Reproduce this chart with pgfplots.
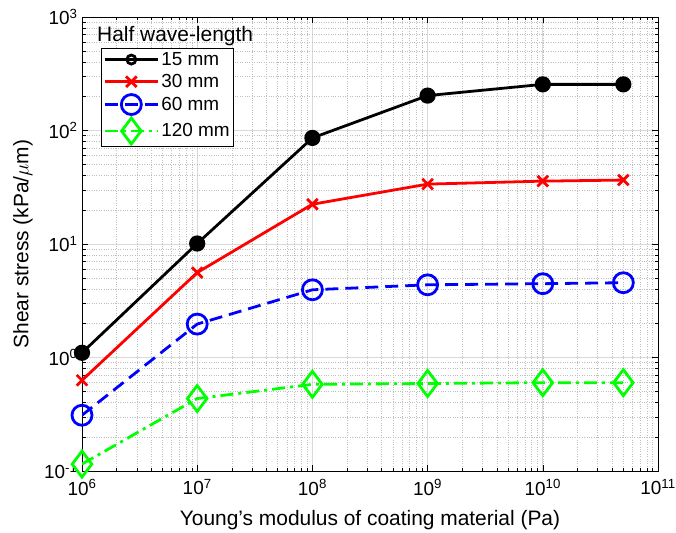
\documentclass[border=0pt]{standalone}
\usepackage{pgfplots}
\pgfplotsset{compat=1.18}
\usepackage{fontspec}
\setmainfont{Liberation Sans}
\begin{document}
\begin{tikzpicture}[x=1bp,y=1bp]
\useasboundingbox (-82bp,-62bp) rectangle (594bp,471bp);
\begin{loglogaxis}[
  at={(0,0)}, anchor=south west,
  scale only axis,
  width=576bp, height=454bp,
  xmin=1e6, xmax=1e11, ymin=1e-1, ymax=1e3,
  font=\fontsize{21}{25}\selectfont,
  tick label style={font=\fontsize{19}{22}\selectfont},
  xticklabel style={yshift=-5bp},
  yticklabel style={xshift=-1bp},
  xtick={1e6,1e7,1e8,1e9,1e10,1e11},
  xticklabels={10\textsuperscript{6},10\textsuperscript{7},10\textsuperscript{8},10\textsuperscript{9},10\textsuperscript{10},10\textsuperscript{11}},
  ytick={1e-1,1e0,1e1,1e2,1e3},
  yticklabels={10\textsuperscript{-1},10\textsuperscript{0},10\textsuperscript{1},10\textsuperscript{2},10\textsuperscript{3}},
  tick align=inside,
  major tick length=6bp, minor tick length=3.5bp,
  every tick/.style={black, line width=0.6pt},
  grid=both,
  major grid style={gray!30, line width=0.7pt},
  minor grid style={gray!50, dotted, line width=0.6pt},
  axis line style={black, line width=0.9pt},
  xlabel={Young's modulus of coating material (Pa)},
  ylabel={Shear stress (kPa/$\mu$m)},
  every axis x label/.style={at={(axis description cs:0.5,0)}, anchor=center, yshift=-49bp},
  every axis y label/.style={at={(axis description cs:-0.1024,0.5)}, anchor=center, rotate=90},
  legend style={at={(rel axis cs:0.033,0.932)}, anchor=north west, draw=black, line width=0.9pt, font=\fontsize{19}{23}\selectfont, row sep=3.5bp, inner sep=2bp},
  legend cell align=left,
  legend image code/.code={\draw[#1] (0bp,0bp) -- (53bp,0bp) plot coordinates {(26.5bp,0bp)};},
]
\addlegendimage{black, line width=2.8pt, mark=o, mark size=4.5bp, mark options={solid}}
\addlegendentry{15 mm}
\addplot[black, line width=2.8pt, mark=*, mark size=6.7bp, mark options={solid, fill=black}, forget plot] coordinates {
(1e6,1.1) (1e7,10.1) (1e8,86) (1e9,203) (1e10,255) (5e10,255)};
\addplot[red, line width=2.8pt, mark=x, mark size=7.5bp, mark options={solid, line width=2.8pt}] coordinates {
(1e6,0.63) (1e7,5.6) (1e8,22.4) (1e9,33.7) (1e10,35.8) (5e10,36.6)};
\addlegendentry{30 mm}
\addplot[blue, line width=2.8pt, dash pattern=on 13bp off 7bp, mark=o, mark size=10bp, mark options={solid, line width=2.8pt}] coordinates {
(1e6,0.31) (1e7,1.97) (1e8,3.95) (1e9,4.37) (1e10,4.47) (5e10,4.56)};
\addlegendentry{60 mm}
\addplot[green, line width=2.8pt, dash pattern=on 13bp off 5bp on 3bp off 5bp, mark=diamond, mark size=13bp, mark options={solid, line width=2.8pt}] coordinates {
(1e6,0.115) (1e7,0.435) (1e8,0.58) (1e9,0.59) (1e10,0.60) (5e10,0.60)};
\addlegendentry{120 mm}
\node[anchor=west, font=\fontsize{21}{25}\selectfont, inner sep=0pt] at (rel axis cs:0.026,0.958) {Half wave-length};
\end{loglogaxis}
\end{tikzpicture}
\end{document}
